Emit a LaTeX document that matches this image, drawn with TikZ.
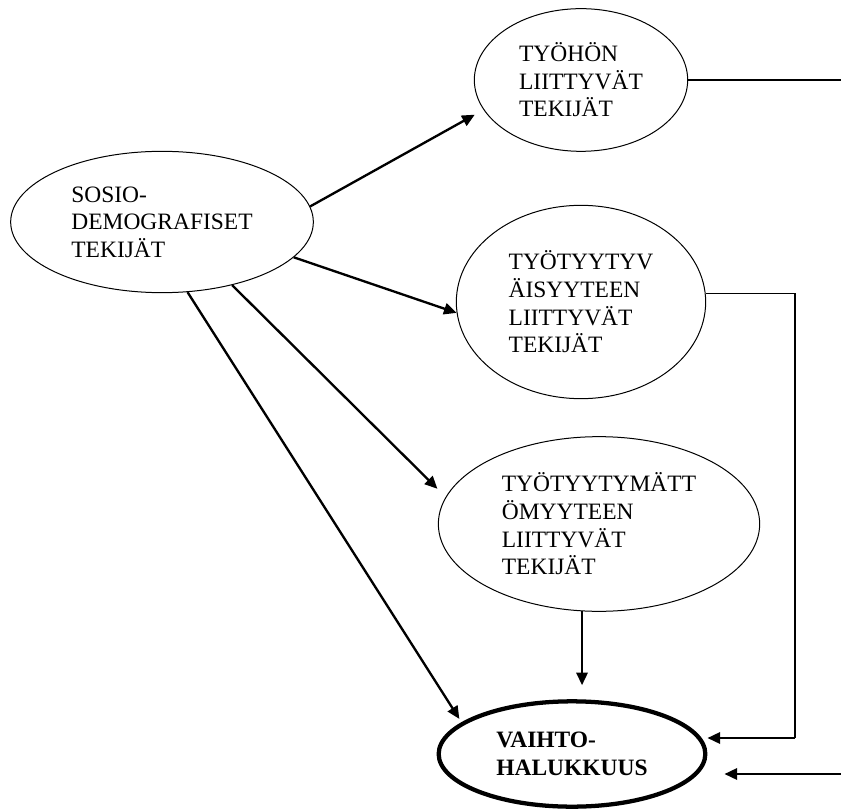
\documentclass[tikz,border=0pt]{standalone}
\usepackage{fontspec}
\setmainfont{Liberation Serif}
\usetikzlibrary{arrows.meta,shapes.geometric}

\begin{document}
\begin{tikzpicture}[x=0.75pt,y=-0.75pt,
	tekija/.style={ellipse,draw,line width=0.75pt,inner sep=0pt,align=left,font=\fontsize{17.6pt}{20.7pt}\selectfont},
	nuoli/.style={-{Triangle[length=9.5pt,width=8.5pt]},line width=1.75pt},
	viiva/.style={line width=0.9pt}]
\useasboundingbox (0,0) rectangle (841,812);
\node [tekija,minimum width=227pt,minimum height=106pt] (sosio) at (162,222) {SOSIO-\\DEMOGRAFISET\\TEKIJÄT};
\node [tekija,minimum width=160pt,minimum height=107pt] (tyohon) at (581,80) {TYÖHÖN\\LIITTYVÄT\\TEKIJÄT};
\node [tekija,minimum width=187pt,minimum height=145pt] (tyytyv) at (581,302) {TYÖTYYTYV\\ÄISYYTEEN\\LIITTYVÄT\\TEKIJÄT};
\node [tekija,minimum width=241pt,minimum height=131pt] (tyytym) at (599,524) {TYÖTYYTYMÄTT\\ÖMYYTEEN\\LIITTYVÄT\\TEKIJÄT};
\node [tekija,line width=3.2pt,minimum width=200pt,minimum height=79pt,font=\fontsize{17.6pt}{21pt}\selectfont\bfseries] (vaihto) at (572,754) {VAIHTO-\\HALUKKUUS};

\coordinate (meno) at (841,80);
\coordinate (kulma) at (795,738);
\coordinate (tulo) at (841,774);

\draw [viiva] (tyohon.east) -- (meno);
\draw [nuoli,shorten >=7.5pt] (sosio.6) -- (tyohon.197);
\draw [nuoli] (sosio.345) -- (tyytyv.185);
\draw [nuoli,shorten >=8.7pt] (sosio.318) -- (tyytym.170);
\draw [nuoli,shorten >=3pt] (sosio.290) -- (vaihto.164);
\draw [nuoli,shorten >=10.5pt] (tyytym.259) -- (tyytym.259 |- vaihto.north);
\draw [viiva] (tyytyv.4) -| (kulma);
\draw [nuoli] (kulma) -- (kulma -| vaihto.east);
\draw [nuoli,shorten >=12.75pt] (tulo) -- (tulo -| vaihto.east);
\end{tikzpicture}
\end{document}
